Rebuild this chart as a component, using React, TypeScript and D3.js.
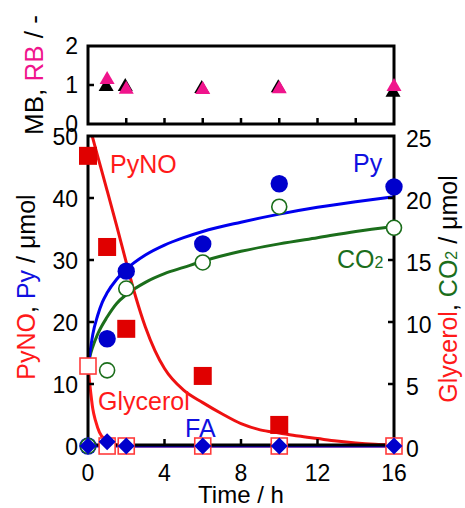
import React from 'react';
import * as d3 from 'd3';

// sampling times (h)
const times = [0, 1, 2, 6, 10, 16];
const pynoTimes = [0, 1, 2, 6, 10];
const pyno = [46.8, 32.1, 18.9, 11.3, 3.4];
const py = [0, 17.3, 28.2, 32.6, 42.3, 41.8];
const co2 = [0, 6.1, 12.7, 14.8, 19.3, 17.6];
const glycerol = [6.45, 0, 0, 0, 0, 0];
const fa = [0, 0.7, 0, 0, 0, 0];

// mass / redox balance (top panel)
const balTimes = [1, 2, 6, 10, 16];
const mb = [1.0, 1.0, 0.95, 0.97, 0.85];
const rb = [1.18, 0.93, 0.92, 0.94, 1.0];

// fitted curves: [time, value]
const pynoFit: [number, number][] = [
  [0, 52.5], [0.5, 46.8], [1, 41.2], [1.5, 35.5], [2, 29.6], [2.5, 24.0], [3, 19.2],
  [3.5, 15.4], [4, 12.5], [5, 9.0], [6, 7.0], [7, 5.2], [8, 3.6], [9, 2.6], [10, 2.1],
  [11, 1.6], [12, 1.2], [13, 0.8], [14, 0.5], [15, 0.3], [16, 0.2],
];
const pyFit: [number, number][] = [
  [0, 12.5], [0.1, 15], [0.25, 18], [0.5, 21], [0.75, 23.2], [1, 24.7], [1.5, 26.9],
  [2, 28.5], [3, 30.8], [4, 32.4], [5, 33.6], [6, 34.6], [8, 36.1], [10, 37.4],
  [12, 38.5], [14, 39.4], [16, 40.2],
];
const co2Fit: [number, number][] = [
  [0, 6.3], [0.1, 7.2], [0.25, 8.0], [0.5, 9.0], [1, 10.4], [1.5, 11.5], [2, 12.2],
  [3, 13.2], [4, 13.9], [5, 14.4], [6, 14.9], [8, 15.7], [10, 16.3], [12, 16.8],
  [14, 17.3], [16, 17.7],
];
const glyFit: [number, number][] = [
  [0, 6.45], [0.1, 4.9], [0.25, 3.0], [0.4, 2.0], [0.6, 1.1], [0.9, 0.5], [1.3, 0.15],
  [2, 0], [16, 0],
];
const faFit: [number, number][] = [[0, 0], [16, 0]];

const xTicksMain = [0, 4, 8, 12, 16];
const xTicksTop = [2, 4, 6, 8, 10, 12, 14];
const yTicksLeft = [0, 10, 20, 30, 40, 50];
const yTicksRight = [0, 5, 10, 15, 20, 25];
const yTicksTop = [0, 1, 2];

const FONT = '"Liberation Sans", Arial, sans-serif';
const RED = '#e00000';
const RED_TXT = '#ff1a1a';
const BLUE = '#0000cc';
const BLUE_TXT = '#1010e0';
const GREEN = '#1b6e1b';
const PINK = '#f0148c';

export default function App() {
  const W = 465;
  const H = 508;
  const left = 88;
  const right = 394;
  const top = 136;
  const bottom = 446;
  const tTop = 46;
  const tBottom = 124;

  const x = d3.scaleLinear().domain([0, 16]).range([left, right]);
  const yL = d3.scaleLinear().domain([0, 50]).range([bottom, top]);
  const yR = d3.scaleLinear().domain([0, 25]).range([bottom, top]);
  const yT = d3.scaleLinear().domain([0, 2]).range([tBottom, tTop]);

  const lineL = d3.line<[number, number]>().x(d => x(d[0])).y(d => yL(d[1])).curve(d3.curveMonotoneX);
  const lineR = d3.line<[number, number]>().x(d => x(d[0])).y(d => yR(d[1])).curve(d3.curveMonotoneX);

  const tri = (cx: number, cy: number) =>
    `M${cx},${cy - 7} L${cx + 7.5},${cy + 6} L${cx - 7.5},${cy + 6} Z`;
  const diamond = (cx: number, cy: number) =>
    `M${cx},${cy - 8.5} L${cx + 8.5},${cy} L${cx},${cy + 8.5} L${cx - 8.5},${cy} Z`;

  const tick = 6;
  const fs = 23;

  return (
    <svg width={W} height={H} style={{ position: 'absolute', left: 0, top: 0, background: '#fff' }}
      fontFamily={FONT}>
      <defs>
        <clipPath id="plotClip">
          <rect x={left} y={top} width={right - left} height={bottom - top + 4} />
        </clipPath>
      </defs>

      {/* ---- top panel: MB / RB ---- */}
      <rect x={left} y={tTop} width={right - left} height={tBottom - tTop} fill="none" stroke="#000" strokeWidth={3} />
      {xTicksTop.map(t => (
        <line key={'tt' + t} x1={x(t)} x2={x(t)} y1={tBottom} y2={tBottom - tick} stroke="#000" strokeWidth={2.5} />
      ))}
      <line x1={left} x2={left + tick} y1={yT(1)} y2={yT(1)} stroke="#000" strokeWidth={2.5} />
      {yTicksTop.map(v => (
        <text key={'yt' + v} x={left - 10} y={yT(v)} dy="0.36em" textAnchor="end" fontSize={fs}>{v}</text>
      ))}
      {balTimes.map((t, i) => (
        <path key={'mb' + t} d={tri(x(t) - 1, yT(mb[i]))} fill="#000" />
      ))}
      {balTimes.map((t, i) => (
        <path key={'rb' + t} d={tri(x(t), yT(rb[i]))} fill={PINK} />
      ))}
      <text transform="translate(43,75) rotate(-90)" textAnchor="middle" fontSize={26}>
        MB, <tspan fill={PINK}>RB</tspan> / -
      </text>

      {/* ---- main panel ---- */}
      <g clipPath="url(#plotClip)">
        <path d={lineR(glyFit) || ''} fill="none" stroke="#ff1a1a" strokeWidth={3} />
        <path d={lineL(faFit) || ''} fill="none" stroke="#0000dd" strokeWidth={3} />
        <path d={lineR(co2Fit) || ''} fill="none" stroke={GREEN} strokeWidth={3} />
        <path d={lineL(pyFit) || ''} fill="none" stroke="#0000ee" strokeWidth={3} />
        <path d={lineL(pynoFit) || ''} fill="none" stroke="#ee1111" strokeWidth={3} />
      </g>

      {/* frame (bottom edge sits just above the FA line) */}
      <path d={`M${left},${top} H${right} V${bottom - 1} H${left} Z`} fill="none" stroke="#000" strokeWidth={3} />
      {xTicksMain.slice(1, -1).map(t => (
        <line key={'xm' + t} x1={x(t)} x2={x(t)} y1={bottom - 1} y2={bottom - 1 - tick} stroke="#000" strokeWidth={2.5} />
      ))}
      {yTicksLeft.slice(1, -1).map(v => (
        <line key={'yl' + v} x1={left} x2={left + tick} y1={yL(v)} y2={yL(v)} stroke="#000" strokeWidth={2.5} />
      ))}
      {yTicksRight.slice(1, -1).map(v => (
        <line key={'yr' + v} x1={right} x2={right - tick} y1={yR(v)} y2={yR(v)} stroke="#000" strokeWidth={2.5} />
      ))}
      {xTicksMain.map(t => (
        <text key={'xl' + t} x={x(t)} y={481} textAnchor="middle" fontSize={fs}>{t}</text>
      ))}
      {yTicksLeft.map(v => (
        <text key={'yll' + v} x={left - 10} y={yL(v)} dy="0.4em" textAnchor="end" fontSize={fs}>{v}</text>
      ))}
      {yTicksRight.map(v => (
        <text key={'yrl' + v} x={right + 12} y={yR(v)} dy="0.48em" textAnchor="start" fontSize={fs}>{v}</text>
      ))}

      {/* markers */}
      {times.map((t, i) => (
        <circle key={'py' + t} cx={x(t)} cy={yL(py[i])} r={8.7} fill={BLUE} />
      ))}
      {times.map((t, i) => (
        <circle key={'co2' + t} cx={x(t)} cy={yR(co2[i])} r={7.5} fill="#fff" stroke={GREEN} strokeWidth={1.6} />
      ))}
      {times.map((t, i) => (
        <rect key={'gly' + t} x={x(t) - 8} y={yR(glycerol[i]) - 8} width={16} height={16}
          fill="#fff" stroke="#ff3b3b" strokeWidth={1.6} />
      ))}
      {pynoTimes.map((t, i) => (
        <rect key={'pyno' + t} x={x(t) - 9} y={yL(pyno[i]) - 9} width={18} height={18} fill={RED} />
      ))}
      {times.map((t, i) => (
        <path key={'fa' + t} d={diamond(x(t), yL(fa[i]))} fill={BLUE} />
      ))}

      {/* series labels */}
      <text x={110} y={173} fontSize={25} fill={RED_TXT}>PyNO</text>
      <text x={353} y={172} fontSize={25} fill={BLUE_TXT}>Py</text>
      <text x={337} y={268} fontSize={25} fill={GREEN}>CO<tspan fontSize={16}>2</tspan></text>
      <text x={98} y={410} fontSize={25} fill={RED_TXT}>Glycerol</text>
      <text x={185} y={437} fontSize={25} fill={BLUE_TXT}>FA</text>

      {/* axis titles */}
      <text transform={`translate(35,${(top + bottom) / 2 - 4}) rotate(-90)`} textAnchor="middle" fontSize={25}>
        <tspan fill={RED_TXT}>PyNO</tspan>, <tspan fill={BLUE_TXT}>Py</tspan> / μmol
      </text>
      <text transform={`translate(457,${(top + bottom) / 2 - 2}) rotate(-90)`} textAnchor="middle" fontSize={25}>
        <tspan fill={RED_TXT}>Glycerol</tspan>, <tspan fill={GREEN}>CO<tspan fontSize={16}>2</tspan></tspan> / μmol
      </text>
      <text x={(left + right) / 2} y={503} textAnchor="middle" fontSize={24}>Time / h</text>
    </svg>
  );
}
